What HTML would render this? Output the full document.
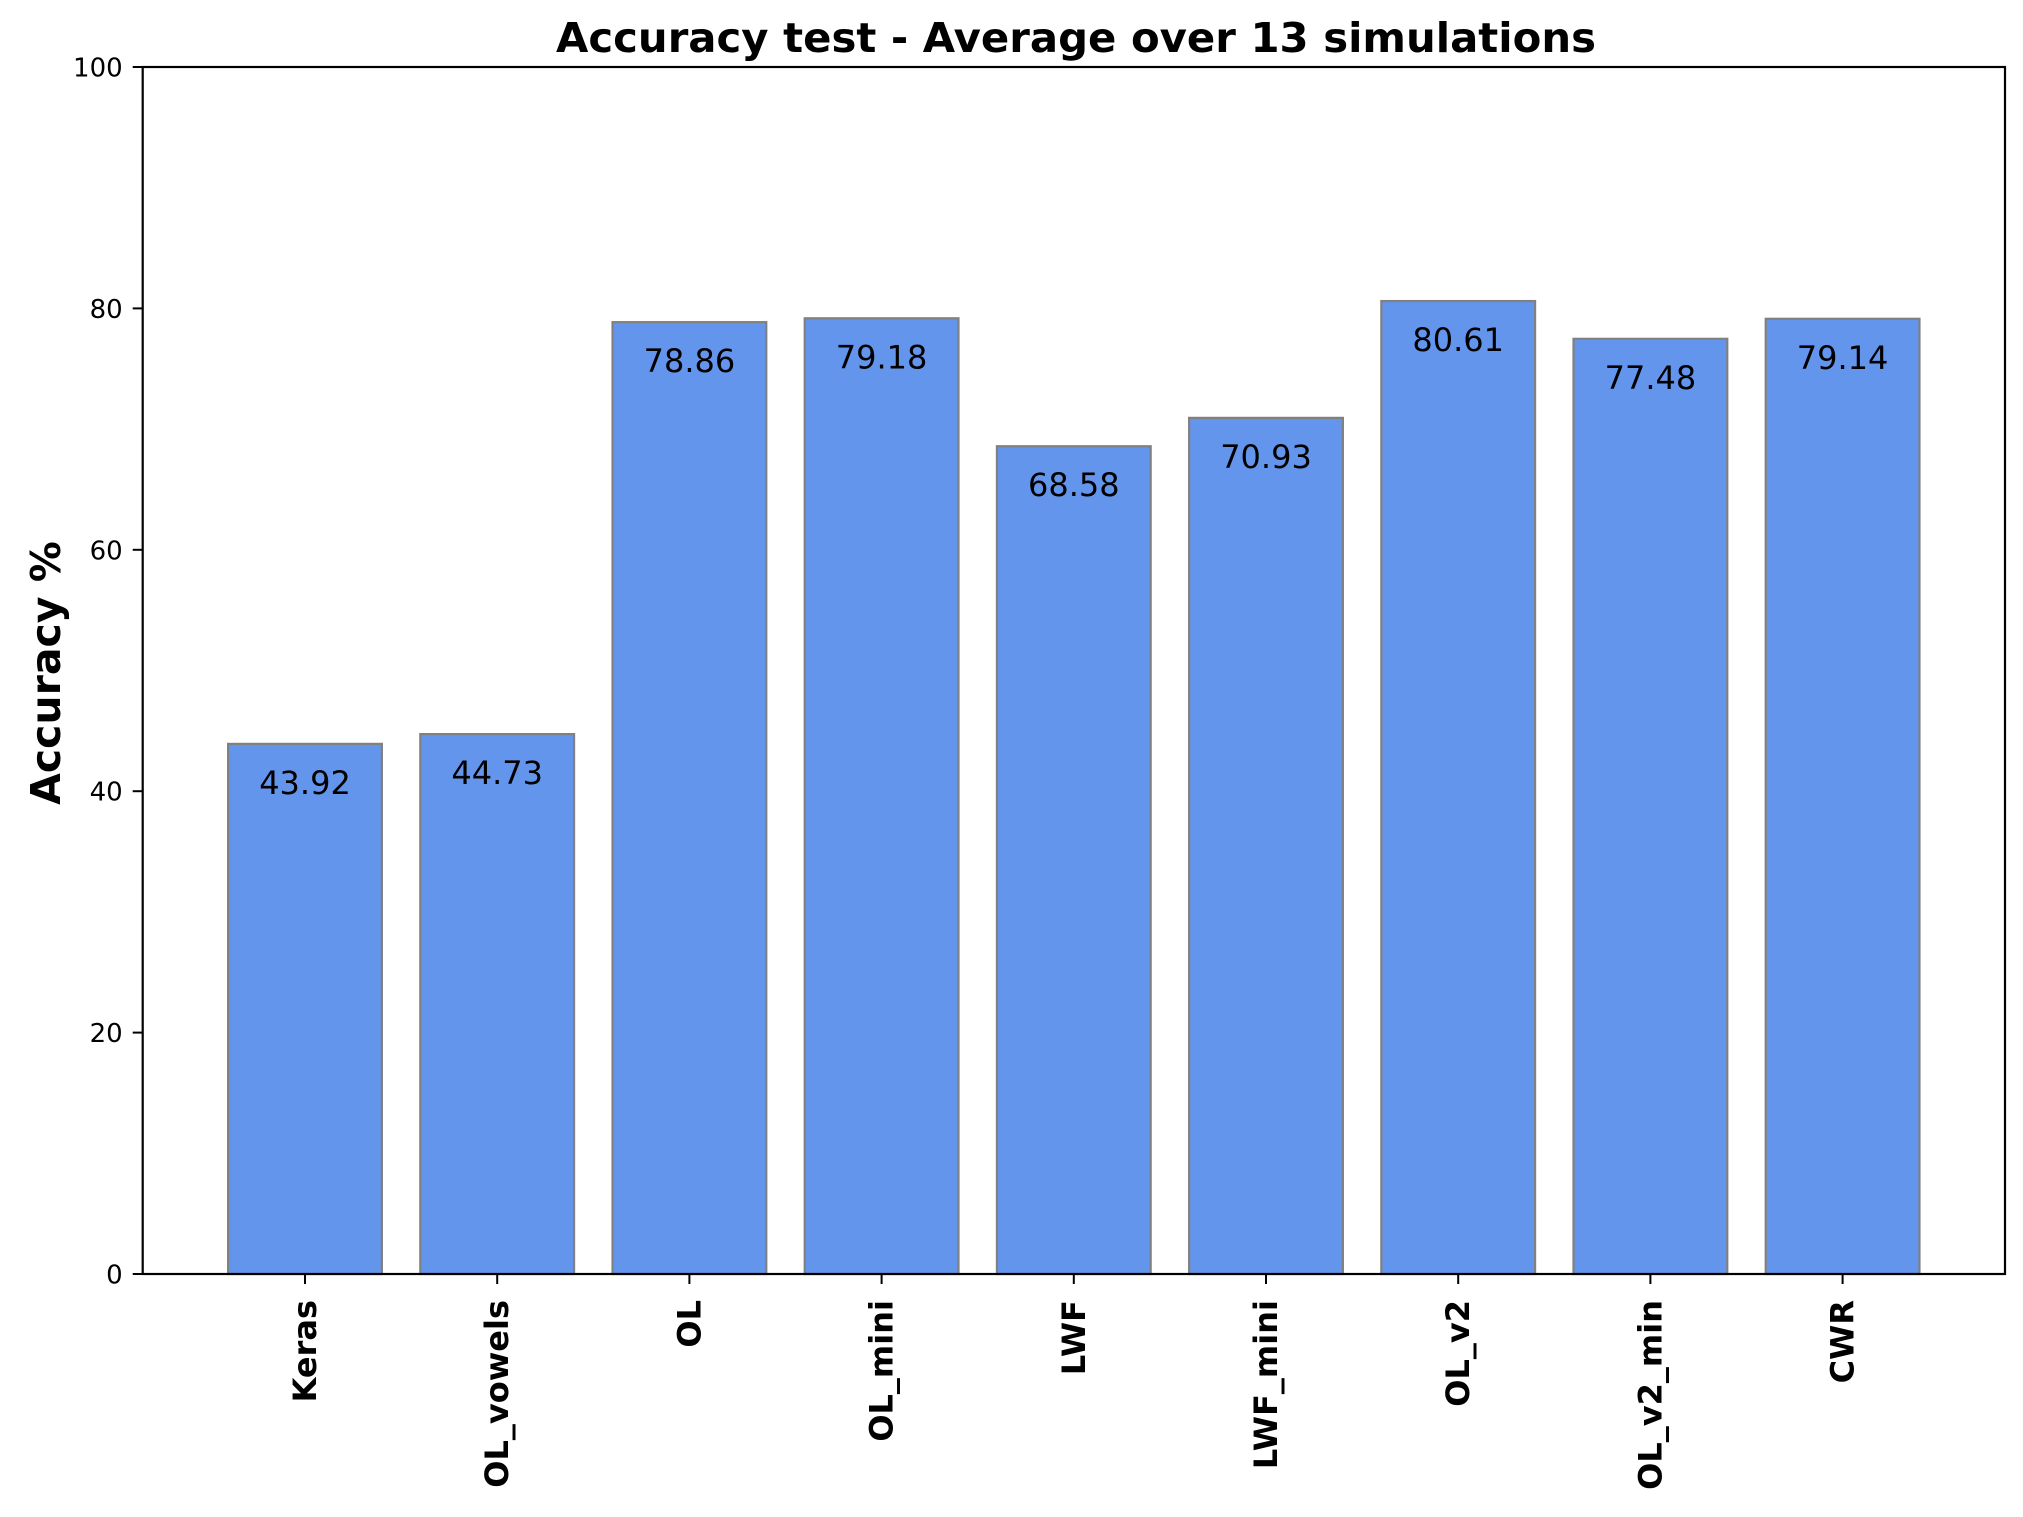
<!DOCTYPE html>
<html><head><meta charset="utf-8"><style>
html,body{margin:0;padding:0;background:#fff;}
svg text{font-family:"DejaVu Sans","Liberation Sans",sans-serif;}
</style></head><body>
<svg id="chart" width="2023" height="1512" viewBox="0 0 2023 1512" xmlns="http://www.w3.org/2000/svg">
<rect width="2023" height="1512" fill="#fff"/>
<text x="1076" y="52" font-size="41" font-weight="bold" text-anchor="middle" textLength="1040" lengthAdjust="spacingAndGlyphs">Accuracy test - Average over 13 simulations</text>
<text transform="translate(60,673) rotate(-90)" font-size="41" font-weight="bold" text-anchor="middle">Accuracy %</text>
<g id="bars"></g>
<g id="axes"></g>
</svg>
<script>
const categories = ["Keras","OL_vowels","OL","OL_mini","LWF","LWF_mini","OL_v2","OL_v2_min","CWR"];
const values = [43.92,44.73,78.86,79.18,68.58,70.93,80.61,77.48,79.14];
const yTicks = [0,20,40,60,80,100];

const L=142.7,R=2005,T=67,B=1274;
const yMin=0,yMax=100;
function yPos(v){return B-(v-yMin)/(yMax-yMin)*(B-T);}
const x0=305,step=192.2;
function xPos(i){return x0+i*step;}
const barW=step*0.8;
const NS="http://www.w3.org/2000/svg";
function mk(tag,attrs,parent){const e=document.createElementNS(NS,tag);for(const k in attrs)e.setAttribute(k,attrs[k]);parent.appendChild(e);return e;}
const gb=document.getElementById('bars'), ga=document.getElementById('axes');
categories.forEach((c,i)=>{
  const cx=xPos(i), yt=yPos(values[i]);
  const r=mk('rect',{x:cx-barW/2,y:yt,width:barW,height:B-yt,fill:'#6495ED',stroke:'#808080','stroke-width':2.2},gb);
  
  
  const t=mk('text',{x:cx,y:yt+50,'font-size':32,'text-anchor':'middle',fill:'#000'},gb);
  t.textContent=values[i].toFixed(2);
  
  
  const tk=mk('line',{x1:cx,x2:cx,y1:B,y2:B+10,stroke:'#000','stroke-width':2},ga);
  
  
  const lb=mk('text',{transform:`translate(${cx+11},1300) rotate(-90)`,'font-size':32,'font-weight':'bold','text-anchor':'end'},ga);
  lb.textContent=c;
  
  
});
yTicks.forEach(v=>{
  const y=yPos(v);
  const tk=mk('line',{x1:L-10,x2:L,y1:y,y2:y,stroke:'#000','stroke-width':2},ga);
  
  
  const t=mk('text',{x:L-20,y:y+9.5,'font-size':26,'text-anchor':'end'},ga);
  t.textContent=v;
  
  
});
const fr=mk('rect',{x:L,y:T,width:R-L,height:B-T,fill:'none',stroke:'#000','stroke-width':2.2},ga);


</script>
</body></html>
